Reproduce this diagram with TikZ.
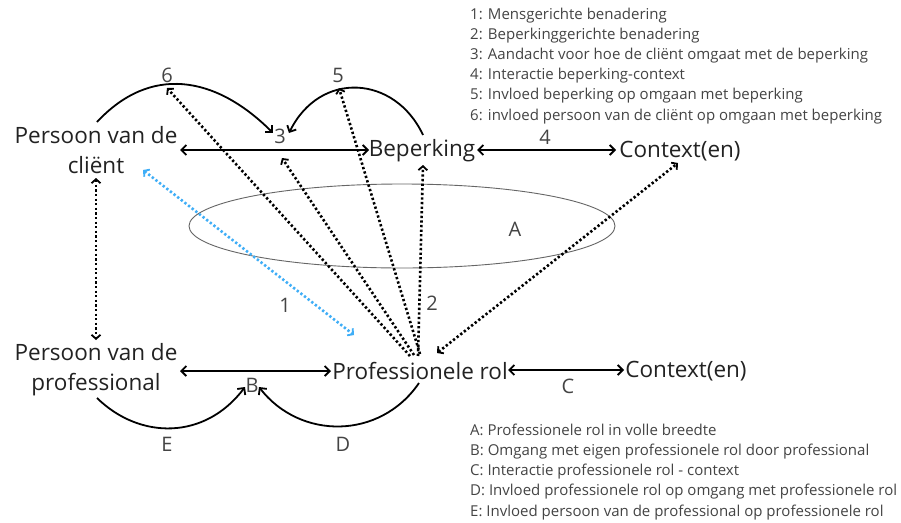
\documentclass[tikz,border=0pt]{standalone}
\usepackage{fontspec}
\setmainfont{Open Sans}
\usetikzlibrary{arrows.meta}
\definecolor{txt}{HTML}{222222}
\definecolor{leg}{HTML}{444444}
\definecolor{blu}{HTML}{3FAEF7}
\begin{document}
\begin{tikzpicture}[x=1pt,y=-1pt,
  big/.style={font=\fontsize{22.5}{30}\selectfont, text=txt, inner sep=0pt, align=center},
  lab/.style={font=\fontsize{20}{24}\selectfont, text=leg, inner sep=0pt},
  legtext/.style={font=\fontsize{15}{20.1}\selectfont, text=leg, inner sep=0pt, align=left, anchor=north west},
  solidarr/.style={line width=1.8pt, {Straight Barb[length=5pt,width=10pt]}-{Straight Barb[length=5pt,width=10pt]}},
  arcarr/.style={line width=1.8pt, -{Straight Barb[length=5pt,width=10pt]}},
  dot/.style={line width=2.6pt, dash pattern=on 2.3pt off 2.3pt},
  dtip/.style={-{Straight Barb[length=4pt,width=9pt,line width=1.8pt]}},
  ddtip/.style={{Straight Barb[length=4pt,width=9pt,line width=1.8pt]}-{Straight Barb[length=4pt,width=9pt,line width=1.8pt]}}]
\useasboundingbox (0,0) rectangle (901,522);
\fill[white] (0,0) rectangle (901,522);

% legends
\node[legtext] (legtop) at (470,8) {1: Mensgerichte benadering\\2: Beperkinggerichte benadering\\3: Aandacht voor hoe de cliënt omgaat met de beperking\\4: Interactie beperking-context\\5: Invloed beperking op omgaan met beperking\\6: invloed persoon van de cliënt op omgaan met beperking};
\node[legtext] (legbot) at (470,424) {A: Professionele rol in volle breedte\\B: Omgang met eigen professionele rol door professional\\C: Interactie professionele rol - context\\D: Invloed professionele rol op omgang met professionele rol\\E: Invloed persoon van de professional op professionele rol};

% ellipse A
\draw[line width=0.9pt, draw=black!60] (402,226) ellipse [x radius=213pt, y radius=42pt];
\node[lab] (lA) at (515,229) {A};

% main nodes
\node[big] (pc) at (96,150) {Persoon van de\\cliënt};
\node[big] (bep) at (422,151) {Beperking};
\node[big] (ctx1) at (680,151) {Context(en)};
\node[big] (pp) at (96,370) {Persoon van de\\professional};
\node[big] (pr) at (420,371) {Professionele rol};
\node[big] (ctx2) at (686,371) {Context(en)};

% labels
\node[lab] (l3) at (280,136) {3};
\node[lab] (l4) at (545,137) {4};
\node[lab] (l5) at (338,75) {5};
\node[lab] (l6) at (167,75) {6};
\node[lab] (l1) at (285,305) {1};
\node[lab] (l2) at (432,303) {2};
\node[lab] (lB) at (252,385) {B};
\node[lab] (lC) at (568,386) {C};
\node[lab] (lD) at (343,444) {D};
\node[lab] (lE) at (167,444) {E};

% coordinates
\coordinate (pcR) at (180,150);
\coordinate (bepL) at (369,150);
\coordinate (bepR) at (477,150);
\coordinate (ctx1L) at (616,150);
\coordinate (ppR) at (180,371);
\coordinate (prL) at (331,371);
\coordinate (prR) at (508,370);
\coordinate (ctx2L) at (624,370);
\coordinate (a6s) at (97,122);
\coordinate (a6e) at (273,133);
\coordinate (a5s) at (423,135);
\coordinate (a5e) at (289,133);
\coordinate (aEs) at (97,398);
\coordinate (aEe) at (245,387);
\coordinate (aDs) at (419,383);
\coordinate (aDe) at (259,387);
\coordinate (o) at (418,356);
\coordinate (o2) at (410,356);
\coordinate (o3) at (414,355);
\coordinate (o4) at (420,354);

% solid arrows
\draw[solidarr] (pcR) -- (bepL);
\draw[solidarr] (bepR) -- (ctx1L);
\draw[solidarr] (ppR) -- (prL);
\draw[solidarr] (prR) -- (ctx2L);

% arcs
\draw[arcarr] (a6s) .. controls (150,65) and (215,75) .. (a6e);
\draw[arcarr] (a5s) .. controls (395,75) and (320,70) .. (a5e);
\draw[arcarr] (aEs) .. controls (140,440) and (205,440) .. (aEe);
\draw[arcarr] (aDs) .. controls (380,440) and (300,440) .. (aDe);

% dotted arrows
\draw[dot, dtip] (o2) -- (167,88);
\draw[dot, dtip] (o3) -- (282,158);
\draw[dot, dtip] (o4) -- (339,88);
\draw[dot, dtip] (o) -- (423,165);
\draw[dot, ddtip] (437,353) -- (678,163);
\draw[dot, ddtip] (96,178) -- (96,340);
\draw[dot, ddtip, draw=blu] (143,170) -- (354,335);
\end{tikzpicture}
\end{document}
